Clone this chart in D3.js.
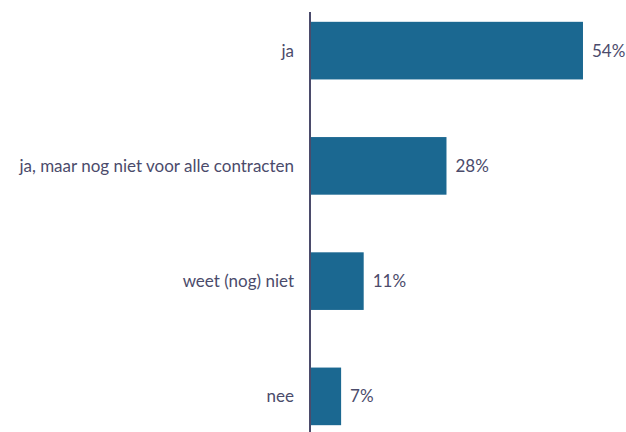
<!DOCTYPE html>
<html><head><meta charset="utf-8">
<script src="https://cdn.jsdelivr.net/npm/d3@7/dist/d3.min.js"></script>
<style>body{margin:0;background:#fff}svg{display:block}</style>
</head><body>
<script>
const categories = ["ja", "ja, maar nog niet voor alle contracten", "weet (nog) niet", "nee"];
const values = [54.4, 27.2, 10.7, 6.2];
const valueLabels = ["54%", "28%", "11%", "7%"];

const W = 626, H = 432;
const axisX = 310;
const svg = d3.select("body").append("svg").attr("width", W).attr("height", H);

const x = d3.scaleLinear().domain([0, 100]).range([axisX, axisX + 501.8]);
const y = d3.scaleBand().domain(categories).range([-7, 454]).paddingInner(0.5).paddingOuter(0.25);

const font = "Lato, 'Open Sans', sans-serif";
const textColor = "#4b4b6b";

svg.selectAll("rect.bar").data(categories).join("rect")
  .attr("class", "bar")
  .attr("x", x(0))
  .attr("y", d => y(d))
  .attr("width", (d, i) => x(values[i]) - x(0))
  .attr("height", y.bandwidth())
  .attr("fill", "#1b6891");

svg.selectAll("text.cat").data(categories).join("text")
  .attr("class", "cat")
  .attr("x", 294)
  .attr("y", d => y(d) + y.bandwidth() / 2)
  .attr("dy", "0.35em")
  .attr("text-anchor", "end")
  .attr("font-family", font)
  .attr("font-size", 17)
  .attr("fill", textColor)
  .text(d => d);

svg.selectAll("text.val").data(categories).join("text")
  .attr("class", "val")
  .attr("x", (d, i) => x(values[i]) + 9)
  .attr("y", d => y(d) + y.bandwidth() / 2)
  .attr("dy", "0.35em")
  .attr("font-family", font)
  .attr("font-size", 17)
  .attr("fill", textColor)
  .text((d, i) => valueLabels[i]);

svg.append("line")
  .attr("x1", axisX).attr("x2", axisX)
  .attr("y1", 12).attr("y2", H)
  .attr("stroke", "#4b4b6b").attr("stroke-width", 2);
</script>
</body></html>
